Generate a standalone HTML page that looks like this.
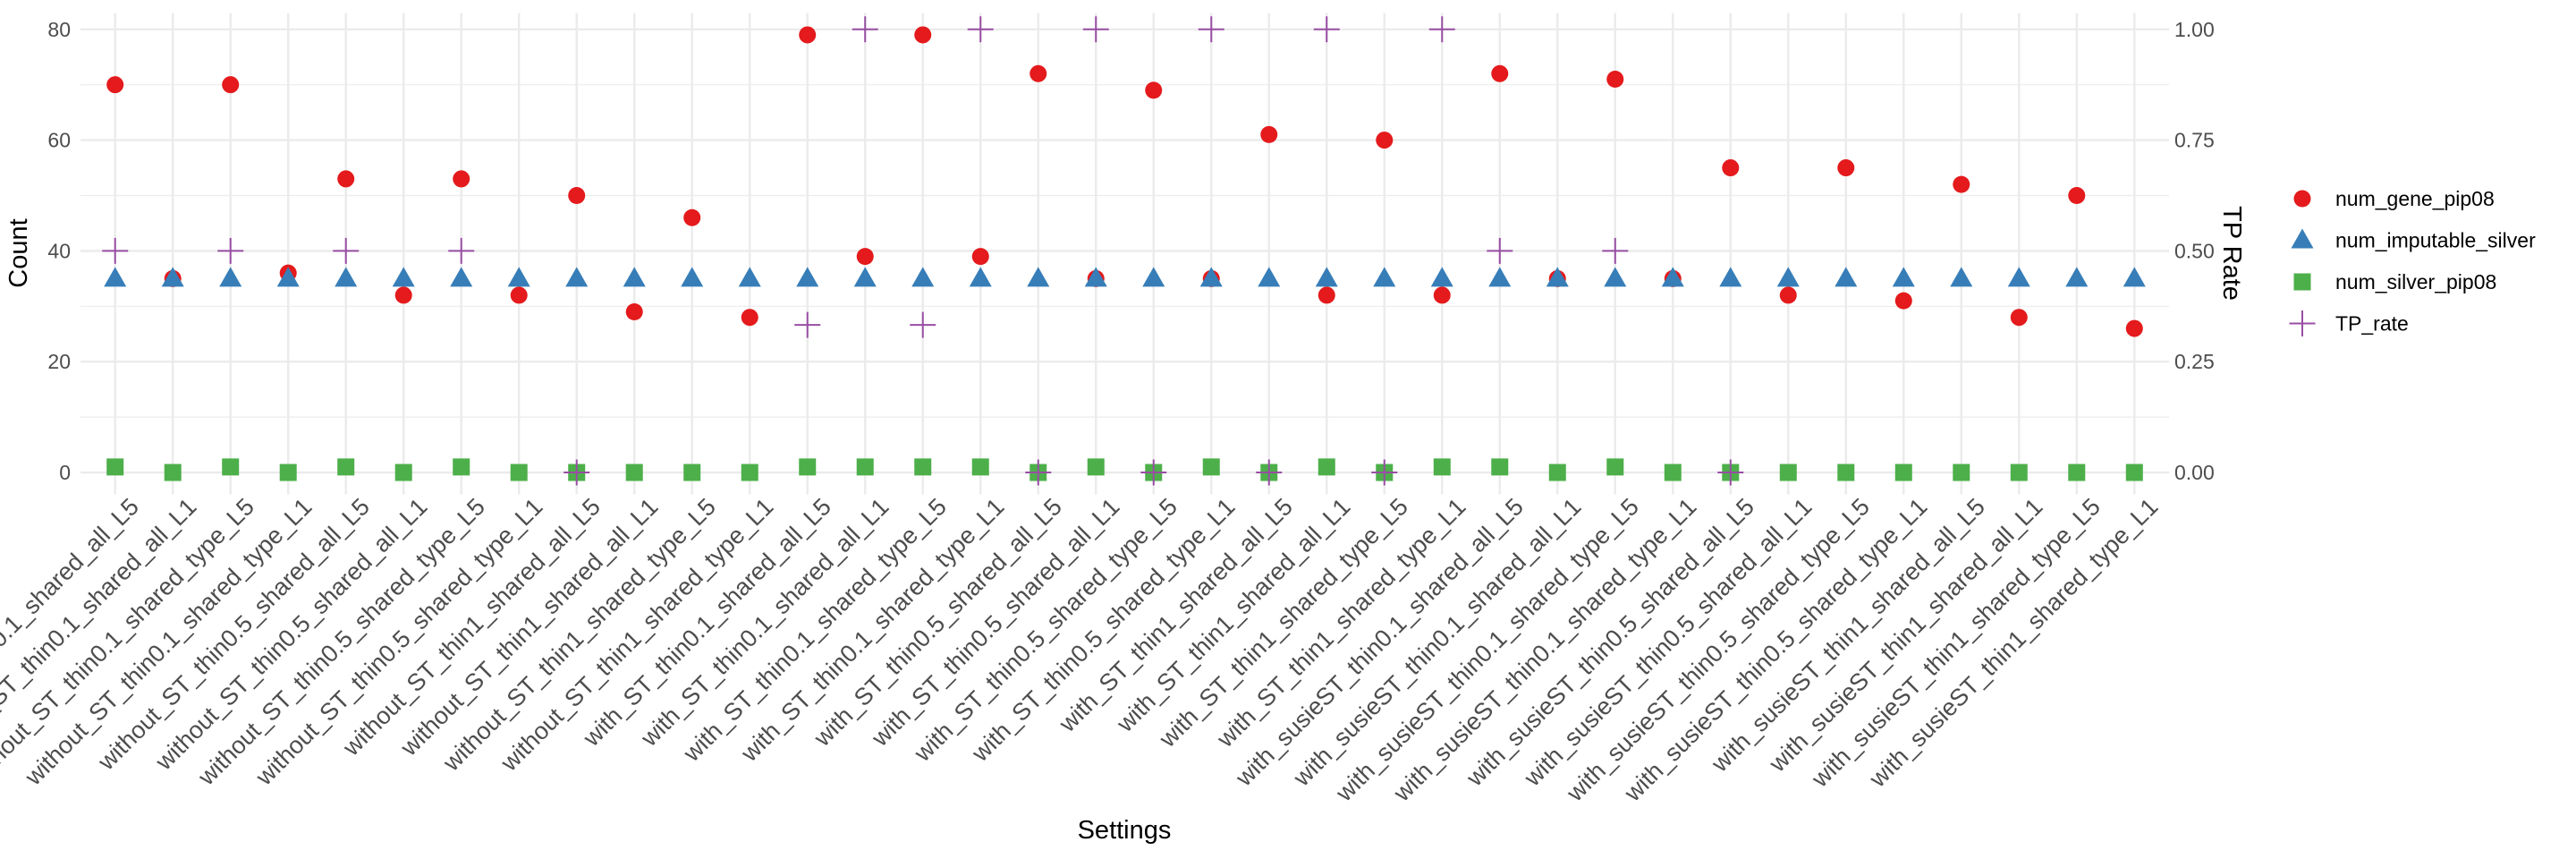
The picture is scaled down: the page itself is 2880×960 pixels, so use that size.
<!DOCTYPE html>
<html><head><meta charset="utf-8"><style>
html,body{margin:0;padding:0;background:#fff;}
svg{display:block;font-family:"Liberation Sans",sans-serif;}
</style></head><body>
<svg id="chart" width="2880" height="960" viewBox="0 0 2880 960" xmlns="http://www.w3.org/2000/svg">
<g id="grid"></g>
<g id="marks"></g>
<g id="axes"></g>
<text x="30" y="283" transform="rotate(-90 30 283)" text-anchor="middle" font-size="29" fill="#000">Count</text>
<text x="2486" y="283" transform="rotate(90 2486 283)" text-anchor="middle" font-size="29" fill="#000">TP Rate</text>
<text x="1257" y="937" text-anchor="middle" font-size="29" fill="#000">Settings</text>
<g id="legend"></g>
</svg>
<script>
const categories = ["without_ST_thin0.1_shared_all_L5","without_ST_thin0.1_shared_all_L1","without_ST_thin0.1_shared_type_L5","without_ST_thin0.1_shared_type_L1","without_ST_thin0.5_shared_all_L5","without_ST_thin0.5_shared_all_L1","without_ST_thin0.5_shared_type_L5","without_ST_thin0.5_shared_type_L1","without_ST_thin1_shared_all_L5","without_ST_thin1_shared_all_L1","without_ST_thin1_shared_type_L5","without_ST_thin1_shared_type_L1","with_ST_thin0.1_shared_all_L5","with_ST_thin0.1_shared_all_L1","with_ST_thin0.1_shared_type_L5","with_ST_thin0.1_shared_type_L1","with_ST_thin0.5_shared_all_L5","with_ST_thin0.5_shared_all_L1","with_ST_thin0.5_shared_type_L5","with_ST_thin0.5_shared_type_L1","with_ST_thin1_shared_all_L5","with_ST_thin1_shared_all_L1","with_ST_thin1_shared_type_L5","with_ST_thin1_shared_type_L1","with_susieST_thin0.1_shared_all_L5","with_susieST_thin0.1_shared_all_L1","with_susieST_thin0.1_shared_type_L5","with_susieST_thin0.1_shared_type_L1","with_susieST_thin0.5_shared_all_L5","with_susieST_thin0.5_shared_all_L1","with_susieST_thin0.5_shared_type_L5","with_susieST_thin0.5_shared_type_L1","with_susieST_thin1_shared_all_L5","with_susieST_thin1_shared_all_L1","with_susieST_thin1_shared_type_L5","with_susieST_thin1_shared_type_L1"];
const geneValues = [70,35,70,36,53,32,53,32,50,29,46,28,79,39,79,39,72,35,69,35,61,32,60,32,72,35,71,35,55,32,55,31,52,28,50,26];
const imputableValues = [35,35,35,35,35,35,35,35,35,35,35,35,35,35,35,35,35,35,35,35,35,35,35,35,35,35,35,35,35,35,35,35,35,35,35,35];
const silverValues = [1,0,1,0,1,0,1,0,0,0,0,0,1,1,1,1,0,1,0,1,0,1,0,1,1,0,1,0,0,0,0,0,0,0,0,0];
const tpValues = [0.5,null,0.5,null,0.5,null,0.5,null,0,null,null,null,0.333,1,0.333,1,0,1,0,1,0,1,0,1,0.5,null,0.5,null,0,null,null,null,null,null,null,null];
const countTicks = [0,20,40,60,80];
const tpTicks = ["0.00","0.25","0.50","0.75","1.00"];

const NS = "http://www.w3.org/2000/svg";
const PL = 90, PR = 2425, PT = 14.5, PB = 552.5;
const yMin = -3.95, yMax = 82.95;
const n = categories.length;
function xPos(i){ return PL + (i + 0.6) / (n + 0.2) * (PR - PL); }
function yPos(v){ return PB - (v - yMin) / (yMax - yMin) * (PB - PT); }
function yTP(v){ return yPos(v * 80); }
function mk(tag, attrs, parent){ const e = document.createElementNS(NS, tag); for (const k in attrs) e.setAttribute(k, attrs[k]); parent.appendChild(e); return e; }
const grid = document.getElementById('grid'), marks = document.getElementById('marks'), axes = document.getElementById('axes'), legend = document.getElementById('legend');

for (let t = 10; t <= 70; t += 20) {
  const l = mk('line', {x1:PL, x2:PR, y1:yPos(t), y2:yPos(t), stroke:'#EBEBEB', 'stroke-width':1.2}, grid);
  
  
}
countTicks.forEach((t, k) => {
  const l = mk('line', {x1:PL, x2:PR, y1:yPos(t), y2:yPos(t), stroke:'#EBEBEB', 'stroke-width':2.4}, grid);
  
  
  const a = mk('text', {x:79, y:yPos(t)+8, 'text-anchor':'end', 'font-size':23, fill:'#4D4D4D'}, axes);
  a.textContent = t;
  
  
  const b = mk('text', {x:2431, y:yPos(t)+8, 'text-anchor':'start', 'font-size':23, fill:'#4D4D4D'}, axes);
  b.textContent = tpTicks[k];
  
  
});
categories.forEach((c, i) => {
  const x = xPos(i);
  const l = mk('line', {x1:x, x2:x, y1:PT, y2:PB, stroke:'#EBEBEB', 'stroke-width':2.4}, grid);
  
  
  const tx = x + 28, ty = 568;
  const t = mk('text', {x:tx, y:ty, 'text-anchor':'end', 'font-size':27, fill:'#4D4D4D', transform:`rotate(-45 ${tx} ${ty})`}, axes);
  t.textContent = c;
  
  
});

function circle(x, y, p){ return mk('circle', {cx:x, cy:y, r:9.5, fill:'#E41A1C'}, p); }
function tri(x, y, p){ return mk('polygon', {points:`${x},${y-13} ${x-12.5},${y+9} ${x+12.5},${y+9}`, fill:'#377EB8'}, p); }
function sq(x, y, p){ return mk('rect', {x:x-9.5, y:y-9.5, width:19, height:19, fill:'#4DAF4A'}, p); }
function plus(x, y, p){ return mk('path', {d:`M${x-14.5},${y}H${x+14.5}M${x},${y-14.5}V${y+14.5}`, stroke:'#984EA3', 'stroke-width':2, fill:'none'}, p); }

categories.forEach((c, i) => {
  const x = xPos(i);
  const a = circle(x, yPos(geneValues[i]), marks);
  
  
  const b = tri(x, yPos(imputableValues[i]), marks);
  
  
  const s = sq(x, yPos(silverValues[i]), marks);
  
  
  if (tpValues[i] !== null) {
    const p = plus(x, yTP(tpValues[i]), marks);
    
    
  }
});

const legendNames = ["num_gene_pip08","num_imputable_silver","num_silver_pip08","TP_rate"];
const fns = [circle, tri, sq, plus];
legendNames.forEach((nm, k) => {
  const y = 222 + k * 46.5;
  const g = mk('g', {}, legend);
  
  
  fns[k](2574, y, g);
  const t = mk('text', {x:2611, y:y+8, 'font-size':23, fill:'#000'}, g);
  t.textContent = nm;
});
</script>
</body></html>
